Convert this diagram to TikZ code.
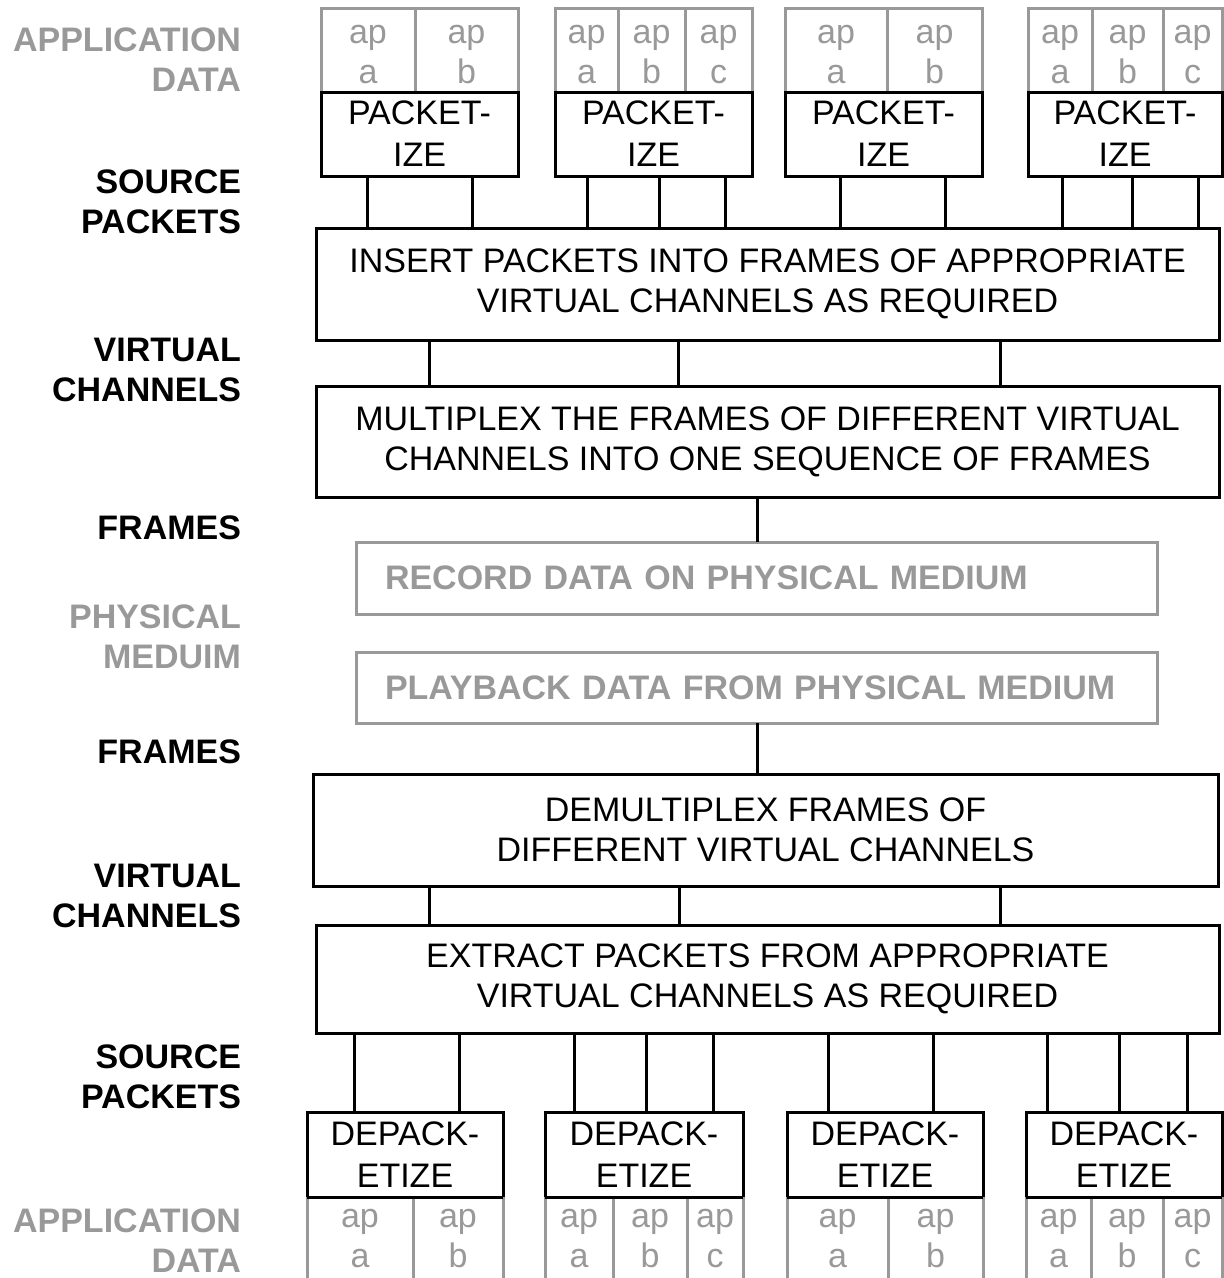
\documentclass[tikz,border=0pt]{standalone}
\usepackage{fontspec}
\setmainfont{Liberation Sans}
\usepackage{xcolor}
\definecolor{tmgray}{RGB}{153,153,153}
\usetikzlibrary{positioning}
\newcommand{\tmfont}{\fontsize{34}{40}\selectfont}
\newcommand{\pkfont}{\fontsize{34}{42}\selectfont}

\begin{document}
\begin{tikzpicture}[x=1pt, y=-1pt,
  every node/.style={inner sep=0pt, outer sep=0pt, font=\tmfont, align=center},
  procbox/.style={draw, line width=3pt},
  medbox/.style={draw=tmgray, line width=3pt, text=tmgray, font=\tmfont\bfseries,
                 align=left, inner xsep=29pt, text width=743pt},
  apcell/.style={draw=tmgray, line width=3pt, text=tmgray, text height=66pt, text depth=0pt},
  aptext/.style={text=tmgray, text height=66pt, text depth=0pt},
  cellside/.style={draw=tmgray, line width=3pt},
  layer/.style={anchor=east, align=right, font=\tmfont\bfseries},
  graylayer/.style={layer, text=tmgray},
  conn/.style={line width=3pt}]

\useasboundingbox (0,0) rectangle (1224,1278);

% === Layer labels (left column) ===
\node[graylayer] (lapptop) at (241,60) {APPLICATION\\DATA};
\node[layer] (lsrctop) at (241,202) {SOURCE\\PACKETS};
\node[layer] (lvctop) at (241,370) {VIRTUAL\\CHANNELS};
\node[layer] (lfrtop) at (241,528) {FRAMES};
\node[graylayer] (lphys) at (241,637) {PHYSICAL\\MEDUIM};
\node[layer] (lfrbot) at (241,752) {FRAMES};
\node[layer] (lvcbot) at (241,896) {VIRTUAL\\CHANNELS};
\node[layer] (lsrcbot) at (241,1077) {SOURCE\\PACKETS};
\node[graylayer] (lappbot) at (241,1241) {APPLICATION\\DATA};

% === Application data cells (top) ===
\foreach \nm/\lx/\rx/\ltr in {t1a/321/415/a, t1b/415/518/b,
    t2a/555/618/a, t2b/618/685/b, t2c/685/752/c,
    t3a/785/887/a, t3b/887/982/b,
    t4a/1028/1092/a, t4b/1092/1163/b, t4c/1163/1222/c}
  \node[apcell, minimum width={(\rx-\lx)*1pt}, minimum height=84pt] (\nm)
       at ({(\lx+\rx)/2},50) {ap\\\ltr};

% === Packetize boxes ===
\node[procbox, font=\pkfont, minimum width=197pt, minimum height=84pt] (pk1) at (419.5,134) {PACKET-\\IZE};
\node[procbox, font=\pkfont, minimum width=197pt, minimum height=84pt] (pk2) at (653.5,134) {PACKET-\\IZE};
\node[procbox, font=\pkfont, minimum width=197pt, minimum height=84pt] (pk3) at (883.5,134) {PACKET-\\IZE};
\node[procbox, font=\pkfont, minimum width=194pt, minimum height=84pt] (pk4) at (1125,134) {PACKET-\\IZE};

% === Processing chain ===
\node[procbox, minimum width=903pt, minimum height=112pt] (ins) at (767.5,284)
     {INSERT PACKETS INTO FRAMES OF APPROPRIATE\\VIRTUAL CHANNELS AS REQUIRED};
\node[procbox, minimum width=903pt, minimum height=111pt] (mux) at (767.5,441.5)
     {MULTIPLEX THE FRAMES OF DIFFERENT VIRTUAL\\CHANNELS INTO ONE SEQUENCE OF FRAMES};
\node[medbox, minimum width=801pt, minimum height=72pt] (rec) at (756.5,578)
     {RECORD DATA ON PHYSICAL MEDIUM};
\node[medbox, minimum width=801pt, minimum height=71pt] (play) at (756.5,687.5)
     {PLAYBACK DATA FROM PHYSICAL MEDIUM};
\node[procbox, minimum width=905pt, minimum height=112pt] (demux) at (765.5,830)
     {DEMULTIPLEX FRAMES OF\\DIFFERENT VIRTUAL CHANNELS};
\node[procbox, minimum width=903pt, minimum height=108pt] (ext) at (767.5,979)
     {EXTRACT PACKETS FROM APPROPRIATE\\VIRTUAL CHANNELS AS REQUIRED};

% === Depacketize boxes ===
\node[procbox, font=\pkfont, minimum width=196pt, minimum height=85pt] (dp1) at (405,1154.5) {DEPACK-\\ETIZE};
\node[procbox, font=\pkfont, minimum width=198pt, minimum height=85pt] (dp2) at (644,1154.5) {DEPACK-\\ETIZE};
\node[procbox, font=\pkfont, minimum width=196pt, minimum height=85pt] (dp3) at (885,1154.5) {DEPACK-\\ETIZE};
\node[procbox, font=\pkfont, minimum width=196pt, minimum height=85pt] (dp4) at (1124,1154.5) {DEPACK-\\ETIZE};

% === Application data cells (bottom, open at the page edge) ===
\foreach \nm/\lx/\rx/\ltr in {b1a/307/413/a, b1b/413/503/b,
    b2a/545/613/a, b2b/613/687/b, b2c/687/743/c,
    b3a/787/888/a, b3b/888/983/b,
    b4a/1026/1091/a, b4b/1091/1163/b, b4c/1163/1222/c} {
  \draw[cellside] (\lx,1197) -- (\lx,1280);
  \draw[cellside] (\rx,1197) -- (\rx,1280);
  \node[aptext] (\nm) at ({(\lx+\rx)/2},1234) {ap\\\ltr};
}
\foreach \nm in {dp1,dp2,dp3,dp4}
  \draw[conn] (\nm.south west) -- (\nm.south east);

% === Connectors ===
\foreach \x/\src in {367/pk1, 472/pk1, 587/pk2, 659/pk2, 725/pk2,
    840/pk3, 945/pk3, 1062/pk4, 1132/pk4, 1198/pk4}
  \draw[conn] (\x,0 |- \src.south) -- (\x,0 |- ins.north);
\foreach \x in {429,678,1000}
  \draw[conn] (\x,0 |- ins.south) -- (\x,0 |- mux.north);
\draw[conn] (757,0 |- mux.south) -- (757,0 |- rec.north);
\draw[conn] (757,0 |- play.south) -- (757,0 |- demux.north);
\foreach \x in {429,679,1000}
  \draw[conn] (\x,0 |- demux.south) -- (\x,0 |- ext.north);
\foreach \x/\dst in {354/dp1, 459/dp1, 574/dp2, 646/dp2, 713/dp2,
    828/dp3, 933/dp3, 1047/dp4, 1119/dp4, 1187/dp4}
  \draw[conn] (\x,0 |- ext.south) -- (\x,0 |- \dst.north);

\end{tikzpicture}
\end{document}
